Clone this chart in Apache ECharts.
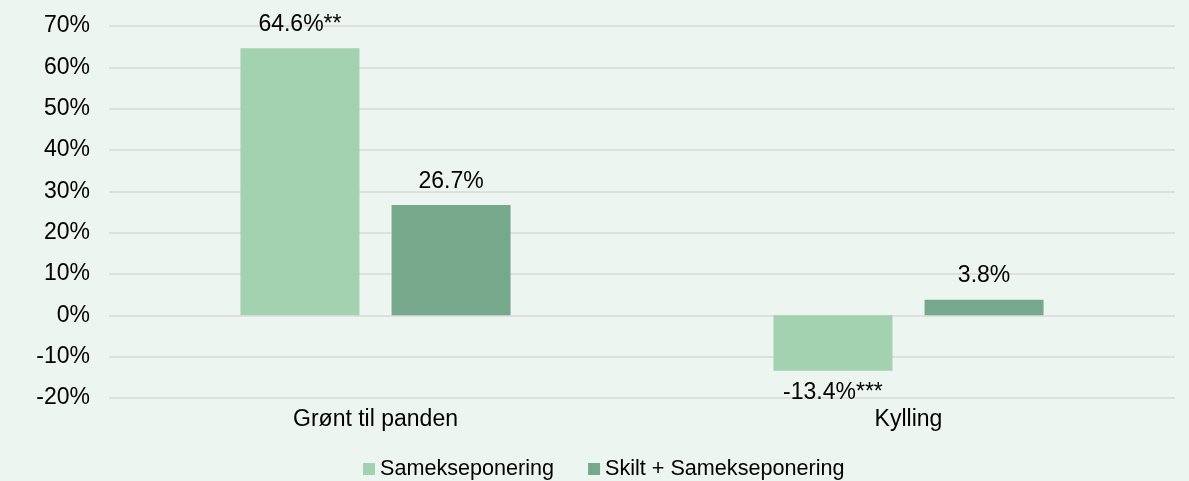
<!DOCTYPE html>
<html><head><meta charset="utf-8">
<script src="https://cdn.jsdelivr.net/npm/echarts@6/dist/echarts.min.js"></script>
<style>html,body{margin:0;padding:0;background:#ecf5f0;}#c{width:1189px;height:481px;}</style>
</head><body><div id="c"></div>
<script>
const categories = ["Grønt til panden", "Kylling"];
const seriesNames = ["Samekseponering", "Skilt + Samekseponering"];
const sameks = [64.6, -13.4];
const skilt = [26.7, 3.8];
const sameksLabels = ["64.6%**", "-13.4%***"];
const skiltLabels = ["26.7%", "3.8%"];
const colors = ["#a3d2b0", "#76a98b"];
const font = "'Liberation Sans', Arial, Helvetica, sans-serif";

function mk(vals, labels) {
  return vals.map((v, i) => ({
    value: v,
    label: { position: v < 0 ? 'bottom' : 'top', distance: v < 0 ? 10 : 12, formatter: labels[i] }
  }));
}

const chart = echarts.init(document.getElementById('c'));
chart.setOption({
  backgroundColor: '#ecf5f0',
  animation: false,
  textStyle: { fontFamily: font },
  grid: { left: 109, right: 14, top: 26, bottom: 83 },
  legend: {
    data: seriesNames,
    left: 363, top: 458, padding: 0,
    itemWidth: 12, itemHeight: 12, itemGap: 34,
    textStyle: { fontSize: 21.6, color: '#000', fontFamily: font },
    icon: 'rect'
  },
  xAxis: {
    type: 'category', data: categories,
    axisLine: { show: false, onZero: false },
    axisTick: { show: false },
    axisLabel: { fontSize: 23, color: '#000', margin: 10, fontFamily: font }
  },
  yAxis: {
    type: 'value', min: -20, max: 70, interval: 10,
    axisLine: { show: false }, axisTick: { show: false },
    axisLabel: { formatter: '{value}%', fontSize: 23, color: '#000', margin: 19, fontFamily: font },
    splitLine: { lineStyle: { color: '#d9d9d9', width: 1.5 } }
  },
  series: [
    { name: seriesNames[0], type: 'bar', data: mk(sameks, sameksLabels), barWidth: 119, barGap: '27%',
      itemStyle: { color: colors[0] },
      label: { show: true, fontSize: 23, color: '#000', fontFamily: font } },
    { name: seriesNames[1], type: 'bar', data: mk(skilt, skiltLabels), barWidth: 119,
      itemStyle: { color: colors[1] },
      label: { show: true, fontSize: 23, color: '#000', fontFamily: font } }
  ]
});
</script></body></html>
